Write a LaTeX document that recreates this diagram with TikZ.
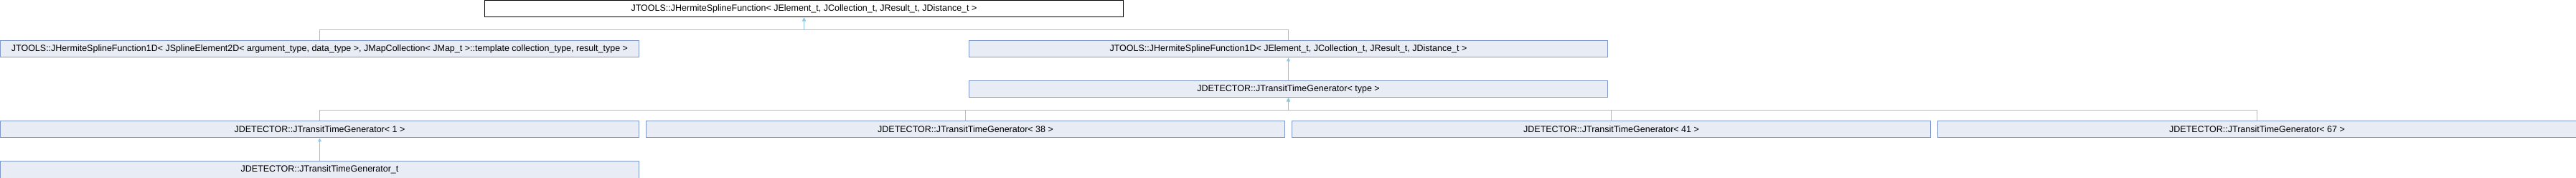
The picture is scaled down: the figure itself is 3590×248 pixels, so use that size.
\documentclass[tikz,border=0pt]{standalone}
\usepackage{fontspec}
\newfontfamily\doxfont{Liberation Sans}
\usetikzlibrary{arrows.meta,calc,positioning}
\definecolor{boxfill}{HTML}{E8ECF4}
\definecolor{boxline}{HTML}{7D96CB}
\definecolor{wire}{HTML}{8FC8E6}
\tikzset{
    doxy diagram/.style = {x=1pt, y=-1pt, >={Triangle[length=5pt,width=5pt]}},
    line/.style         = {draw=wire, line width=1pt},
    block/.style        = {draw=boxline, line width=1pt, fill=boxfill,
                           minimum width=890pt, minimum height=23pt,
                           inner sep=0pt, anchor=north west,
                           font=\doxfont\fontsize{12.5}{14}\selectfont},
    rootblock/.style    = {block, draw=black, fill=white}
}
\def\rowgap{56}

\begin{document}
\begin{tikzpicture}[doxy diagram]
\useasboundingbox (0,0) rectangle (3590,248);

\node[rootblock] (spline) at (675,0.5)
    {JTOOLS::JHermiteSplineFunction< JElement\_t, JCollection\_t, JResult\_t, JDistance\_t >};

\node[block] (mapspline) at (0,\rowgap+0.5)
    {JTOOLS::JHermiteSplineFunction1D< JSplineElement2D< argument\_type, data\_type >, JMapCollection< JMap\_t >::template collection\_type, result\_type >};
\node[block] (spline1d) at (1350,\rowgap+0.5)
    {JTOOLS::JHermiteSplineFunction1D< JElement\_t, JCollection\_t, JResult\_t, JDistance\_t >};

\node[block] (generator) at (1350,2*\rowgap+0.5)
    {JDETECTOR::JTransitTimeGenerator< type >};

\foreach \name/\type/\xpos in {gen1/1/0,gen38/38/900,gen41/41/1800,gen67/67/2700}
    \node[block] (\name) at (\xpos,3*\rowgap+0.5)
        {JDETECTOR::JTransitTimeGenerator< \type\ >};

\node[block] (gent) at (0,4*\rowgap+0.5)
    {JDETECTOR::JTransitTimeGenerator\_t};

\coordinate (splinebus) at ($(spline.south)+(0,17)$);
\coordinate (genbus) at ($(generator.south)+(0,17)$);

\foreach \child in {mapspline,spline1d}
    \draw[->,line] (\child.north) |- (splinebus) -- (spline.south);
\draw[->,line] (generator.north) -- (spline1d.south);
\foreach \child in {gen1,gen38,gen41,gen67}
    \draw[->,line] (\child.north) |- (genbus) -- (generator.south);
\draw[->,line] (gent.north) -- (gen1.south);
\end{tikzpicture}
\end{document}
